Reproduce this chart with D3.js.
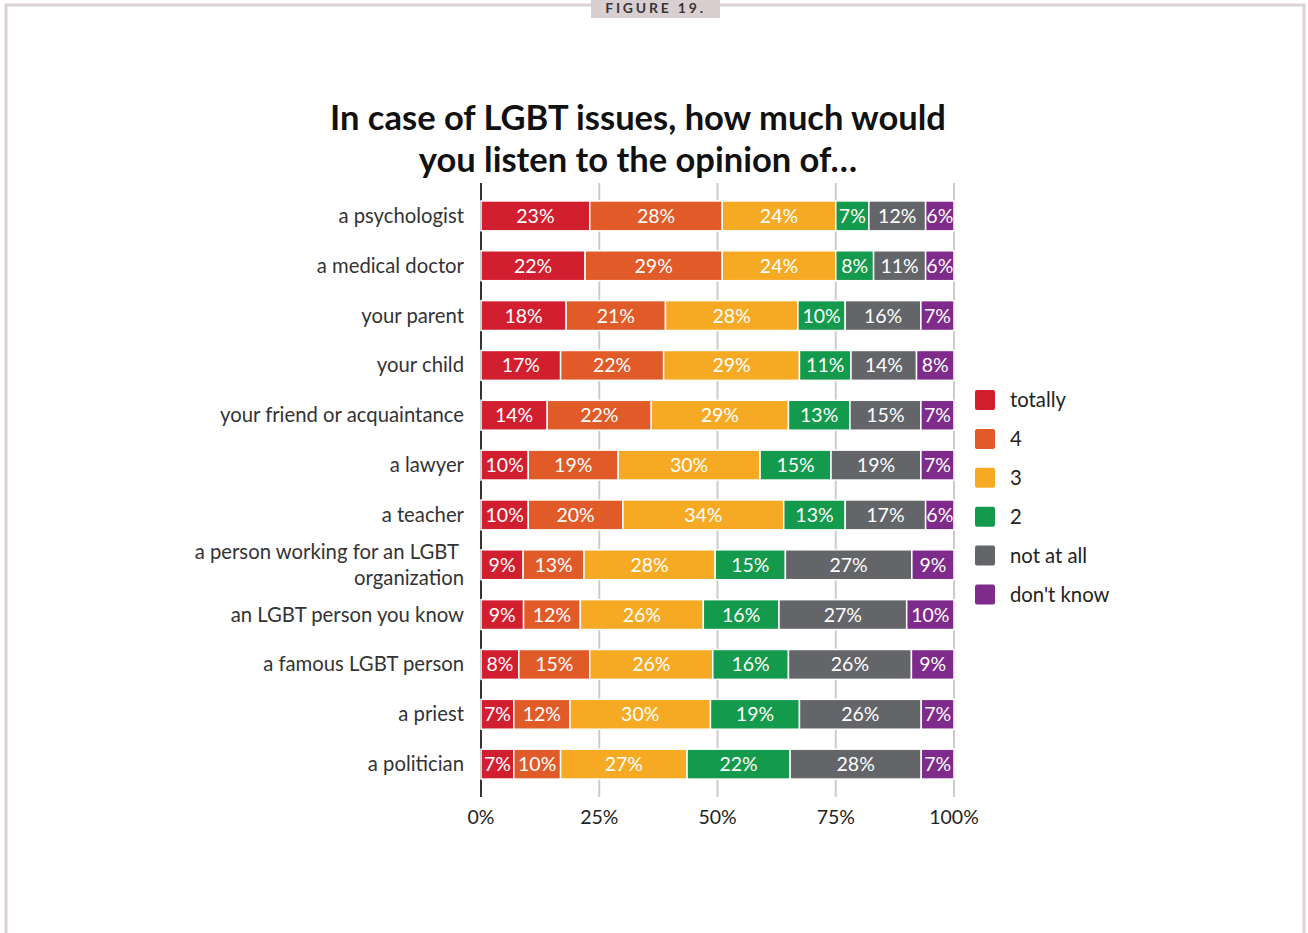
<!DOCTYPE html>
<html>
<head>
  <meta charset="utf-8">
  <title>Figure 19</title>
  <script src="https://d3js.org/d3.v7.min.js"></script>
  <style>
    body { margin: 0; background: #fff; }
    text { font-family: Lato, "Noto Sans", sans-serif; }
  </style>
</head>
<body>
<div id="chart"></div>
<script>
  // categories, top to bottom
  var categories = [
    "a psychologist", "a medical doctor", "your parent", "your child",
    "your friend or acquaintance", "a lawyer", "a teacher",
    "a person working for an LGBT organization", "an LGBT person you know",
    "a famous LGBT person", "a priest", "a politician"
  ];
  var seriesNames = ["totally", "4", "3", "2", "not at all", "don't know"];
  var seriesColors = ["#d21f30", "#e15b28", "#f6aa23", "#139a4c", "#636569", "#7e2b8b"];

  // one array per series, in category order (percent)
  var totally   = [23, 22, 18, 17, 14, 10, 10,  9,  9,  8,  7,  7];
  var four      = [28, 29, 21, 22, 22, 19, 20, 13, 12, 15, 12, 10];
  var three     = [24, 24, 28, 29, 29, 30, 34, 28, 26, 26, 30, 27];
  var two       = [ 7,  8, 10, 11, 13, 15, 13, 15, 16, 16, 19, 22];
  var notAtAll  = [12, 11, 16, 14, 15, 19, 17, 27, 27, 26, 26, 28];
  var dontKnow  = [ 6,  6,  7,  8,  7,  7,  6,  9, 10,  9,  7,  7];
  var xTicks = [0, 25, 50, 75, 100];

  var series = [totally, four, three, two, notAtAll, dontKnow];

  var w = 1308, h = 933;
  var svg = d3.select("#chart").append("svg")
      .attr("width", w).attr("height", h);

  // frame
  svg.append("rect")
     .attr("x", 6).attr("y", 5).attr("width", 1298).attr("height", 960)
     .attr("fill", "none").attr("stroke", "#dcd2d3").attr("stroke-width", 3);
  svg.append("rect")
     .attr("x", 591).attr("y", 0).attr("width", 129).attr("height", 18)
     .attr("fill", "#d9cfd0");
  svg.append("text")
     .attr("x", 655.5).attr("y", 13)
     .attr("text-anchor", "middle")
     .style("font-size", "14px").style("font-weight", "bold")
     .style("letter-spacing", "2.8px")
     .attr("fill", "#3a3536")
     .text("FIGURE 19.");

  // title
  var title = svg.append("text")
     .attr("text-anchor", "middle")
     .style("font-size", "34.5px").style("font-weight", "bold")
     .attr("fill", "#111");
  title.append("tspan").attr("x", 638).attr("y", 130).text("In case of LGBT issues, how much would");
  title.append("tspan").attr("x", 638).attr("y", 172).text("you listen to the opinion of\u2026");

  var x = d3.scaleLinear().domain([0, 100]).range([481, 954]);
  var y = d3.scaleBand().domain(categories).range([183, 797])
            .paddingInner(0.4).paddingOuter(0.36);

  // gridlines
  svg.append("g").selectAll("line")
     .data(xTicks.slice(1))
     .enter().append("line")
     .attr("x1", function(d) { return x(d); })
     .attr("x2", function(d) { return x(d); })
     .attr("y1", 183).attr("y2", 797)
     .attr("stroke", "#cccccc").attr("stroke-width", 2);
  svg.append("line")
     .attr("x1", x(0)).attr("x2", x(0)).attr("y1", 183).attr("y2", 797)
     .attr("stroke", "#333").attr("stroke-width", 2);

  // x tick labels
  svg.append("g").selectAll("text")
     .data(xTicks)
     .enter().append("text")
     .attr("x", function(d) { return x(d); })
     .attr("y", 824)
     .attr("text-anchor", "middle")
     .style("font-size", "19.5px")
     .attr("fill", "#222")
     .text(function(d) { return d + "%"; });

  // stacked rows
  categories.forEach(function(cat, i) {
    var vals = series.map(function(s) { return s[i]; });
    var total = d3.sum(vals);
    var cum = 0;
    var segs = vals.map(function(v, k) {
      var s = { v: v, k: k, x0: cum / total * 100, x1: (cum + v) / total * 100 };
      cum += v;
      return s;
    });
    var g = svg.append("g");
    g.selectAll("rect")
     .data(segs)
     .enter().append("rect")
     .attr("x", function(d) { return x(d.x0); })
     .attr("width", function(d) { return x(d.x1) - x(d.x0); })
     .attr("y", y(cat))
     .attr("height", y.bandwidth())
     .attr("fill", function(d) { return seriesColors[d.k]; })
     .attr("stroke", "#fff").attr("stroke-width", 1.5);
    g.selectAll("text")
     .data(segs)
     .enter().append("text")
     .attr("x", function(d) { return (x(d.x0) + x(d.x1)) / 2; })
     .attr("y", y(cat) + y.bandwidth() / 2 + 7)
     .attr("text-anchor", "middle")
     .style("font-size", "19.5px")
     .attr("fill", "#fff")
     .text(function(d) { return d.v + "%"; });
  });

  // category labels (wrap the long one)
  categories.forEach(function(cat) {
    var cy = y(cat) + y.bandwidth() / 2;
    var lines = cat.length > 30
      ? ["a person working for an LGBT", "organization"] : [cat];
    var t = svg.append("text")
      .attr("text-anchor", "end")
      .style("font-size", "20.3px")
      .attr("fill", "#333");
    lines.forEach(function(l, j) {
      t.append("tspan")
       .attr("x", lines.length > 1 && j == 0 ? 459 : 464)
       .attr("y", cy + 7 + (j - (lines.length - 1) / 2) * 26)
       .text(l);
    });
  });

  // legend
  var lg = svg.append("g").selectAll("g")
     .data(seriesNames)
     .enter().append("g")
     .attr("transform", function(d, i) { return "translate(975," + (390 + i * 38.9) + ")"; });
  lg.append("rect")
    .attr("width", 20).attr("height", 20).attr("rx", 2)
    .attr("fill", function(d, i) { return seriesColors[i]; });
  lg.append("text")
    .attr("x", 35).attr("y", 17)
    .style("font-size", "20.3px")
    .attr("fill", "#222")
    .text(function(d) { return d; });
</script>
</body>
</html>
